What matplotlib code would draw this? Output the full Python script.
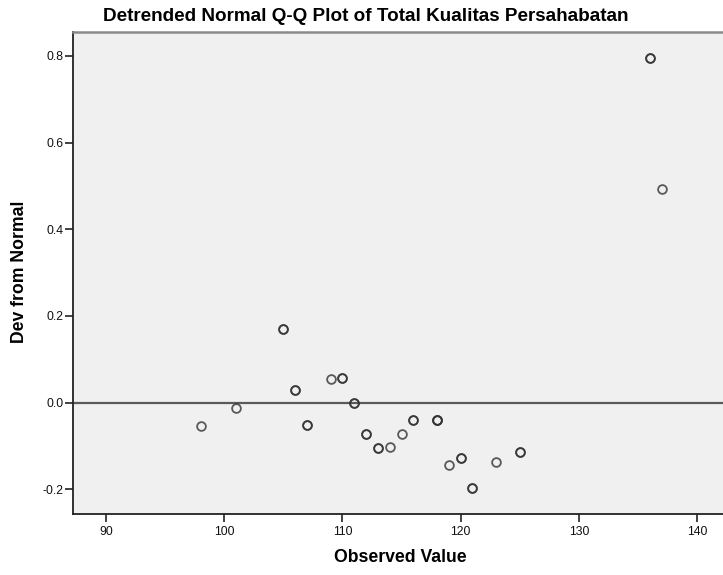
import matplotlib
matplotlib.use("Agg")
import matplotlib.pyplot as plt

# Data
observed = [98, 101, 105, 106, 107, 109, 110, 111, 112, 113, 114, 115, 116, 118,
            119, 120, 121, 123, 125, 136, 137]
deviation = [-0.053, -0.013, 0.171, 0.030, -0.052, 0.055, 0.057, 0.0, -0.072, -0.104,
             -0.103, -0.072, -0.041, -0.041, -0.143, -0.128, -0.197, -0.137, -0.113,
             0.796, 0.494]
counts = [1, 1, 2, 2, 2, 1, 2, 2, 2, 2, 1, 1, 2, 3, 1, 2, 2, 1, 2, 2, 1]

x_ticks = [90, 100, 110, 120, 130, 140]
y_ticks = [-0.2, 0.0, 0.2, 0.4, 0.6, 0.8]
y_tick_labels = ["-0.2", "0.0", "0.2", "0.4", "0.6", "0.8"]

title = "Detrended Normal Q-Q Plot of Total Kualitas Persahabatan"
xlabel = "Observed Value"
ylabel = "Dev from Normal"

plt.rcParams['font.family'] = ['Liberation Sans', 'DejaVu Sans']

W, H = 723, 575
fig = plt.figure(figsize=(7.23, 5.75), dpi=100)
left, top, bottom = 72.7, 31.7, 514.0
ax = fig.add_axes([left / W, 1 - bottom / H, 1 - left / W, (bottom - top) / H])
ax.set_facecolor('#F0F0F0')

ax.axhline(0.0, color='#5a5a5a', lw=1.6, zorder=1)

for xv, yv, c in zip(observed, deviation, counts):
    for _ in range(c):
        ax.plot([xv], [yv], marker='o', ms=6.3, mfc='none', mec='#333333',
                mew=1.3, alpha=0.8, ls='none', zorder=3)

ax.set_xlim(87.17, 142.2)
ax.set_ylim(-0.257, 0.856)
ax.set_xticks(x_ticks)
ax.set_xticklabels([str(v) for v in x_ticks])
ax.set_yticks(y_ticks)
ax.set_yticklabels(y_tick_labels)
ax.tick_params(axis='both', labelsize=8.8, colors='#222222', labelcolor='#111111',
               length=5.5, width=1.2)
ax.tick_params(axis='x', pad=3)
ax.tick_params(axis='y', pad=1)

for side in ['left', 'bottom']:
    ax.spines[side].set_color('#222222')
    ax.spines[side].set_linewidth(1.3)
ax.spines['top'].set_color('#8a8a8a')
ax.spines['top'].set_linewidth(1.8)
ax.spines['right'].set_visible(False)

fig.text(365.5 / W, 1 - 16.5 / H, title, ha='center', va='center',
         fontsize=13.6, fontweight='bold')
fig.text(400 / W, 1 - 558 / H, xlabel, ha='center', va='center',
         fontsize=12.7, fontweight='bold')
fig.text(20 / W, 1 - 272 / H, ylabel, ha='center', va='center',
         fontsize=12.7, fontweight='bold', rotation=90)

fig.savefig('out.png', dpi=100)
